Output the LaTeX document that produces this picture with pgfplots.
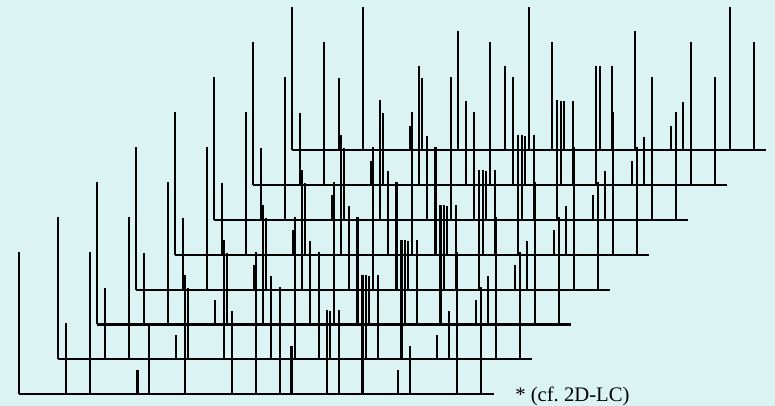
\documentclass[border=0pt]{standalone}
\usepackage{pgfplots}
\pgfplotsset{compat=1.18}
\usepackage{pgfplotstable}
\usepackage{fontspec}
\setmainfont{Liberation Serif}
\definecolor{bg}{RGB}{220,243,243}
\pgfplotstableread{
n h
0 142.6
4 71.6
6 142.6
10 24.3
11 71.6
14 119.3
18 83.6
20 142.6
22 107.6
23 48.6
26 84.3
27 84.3
29 119.3
32 24.3
33 48.3
37 142.6
39 107.6
}\spectrum
\begin{document}
\begin{tikzpicture}
\fill[bg] (0,0) rectangle (581.25pt,304.5pt);
\begin{axis}[at={(0,0)}, anchor=south west, scale only axis,
  width=581.25pt, height=304.5pt,
  xmin=0, xmax=775, ymin=0, ymax=406, hide axis, clip=false,
  every error bar/.style={draw=black, line width=1.6pt}]
\pgfplotsinvokeforeach{0,...,7}{
 \addplot[black, line width=1.6pt, no marks] coordinates {({19+38.96*#1}, {11.7+34.9*#1}) ({493.5+38.96*#1}, {11.7+34.9*#1})};
 \addplot[black, line width=1.6pt, draw=none, no markers, error bars/.cd, y dir=plus, y explicit, error mark=none,
   error bar style={draw=black, line width=1.6pt}]
   table[x expr={19+38.96*#1+11.846*\thisrow{n}}, y expr={11.7+34.9*#1}, y error expr={\thisrow{h}}] {\spectrum};
}
\node[anchor=base west, font=\fontsize{15.5}{18}\selectfont, inner sep=0pt] at (axis cs:515,4.5) {* (cf.\ 2D-LC)};
\end{axis}
\end{tikzpicture}
\end{document}
